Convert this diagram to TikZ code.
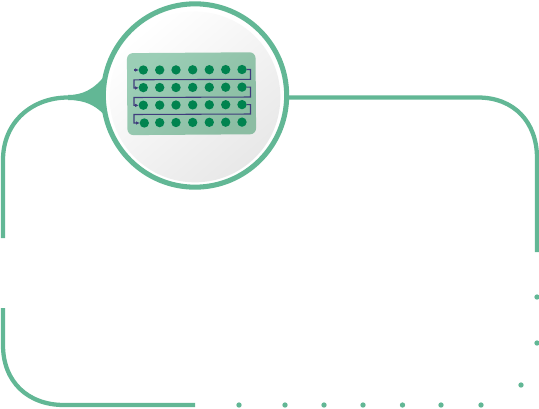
\documentclass[tikz,border=0pt]{standalone}
\usepackage{tikz}
\usetikzlibrary{arrows.meta}
\definecolor{framegreen}{HTML}{62B795}
\definecolor{dotgreen}{HTML}{00834F}
\definecolor{wirecol}{HTML}{3F3C7C}
\definecolor{cardtop}{HTML}{9BCEB6}
\definecolor{cardlow}{HTML}{8CBDA3}
\tikzset{
  frameline/.style={draw=framegreen, line width=3.2pt},
  pip/.style={circle, fill=dotgreen, inner sep=0pt, outer sep=0pt, minimum size=7pt},
  speck/.style={circle, fill=framegreen, inner sep=0pt, outer sep=0pt, minimum size=4pt},
  wire/.style={draw=wirecol, line width=.8pt, -{Latex[length=2.6pt,width=2.6pt]}}
}
\begin{document}
\begin{tikzpicture}[x=.75pt,y=-.75pt]
\useasboundingbox (0,0) rectangle (539,408);
\coordinate (topa) at (3,238);
\coordinate (topb) at (285,97.5);
\coordinate (topc) at (537,252);
\coordinate (lowa) at (3,308);
\coordinate (lowb) at (195,405);
\draw[frameline] (topa) -- (3,160) .. controls (3,122) and (32,97.5) .. (68,97.5) -- (110,97.5);
\draw[frameline] (topb) -- (478,97.5) .. controls (514,97.5) and (537,122) .. (537,158) -- (topc);
\draw[frameline] (lowa) -- (3,345) .. controls (3,382) and (28,405) .. (64,405) -- (lowb);
\fill[framegreen] (68,95) .. controls (82,95) and (94,90) .. (106,74) -- (125,135) .. controls (106,122) and (102,100) .. (68,100) -- cycle;
\node[circle, fill=white, inner sep=0pt, outer sep=0pt, minimum size=137.5pt] (ringbase) at (195,95.5){};
\node[circle, shade, top color=white, bottom color=black!9, shading angle=40, inner sep=0pt, outer sep=0pt, minimum size=128pt] (disk) at (195,97){};
\node[circle, draw=framegreen, line width=3.8pt, inner sep=0pt, outer sep=0pt, minimum size=137.5pt] (ring) at (195,95.5){};
\node[rectangle, rounded corners=4.5pt, shade, top color=cardtop, bottom color=cardlow, shading angle=45, inner sep=0pt, outer sep=0pt, minimum width=96.5pt, minimum height=61.5pt, rotate=0.4] (card) at (191.5,93.7){};
\node[pip] (p11) at (143.3,70){};
\node[pip] (p12) at (159.7,70){};
\node[pip] (p13) at (176,69.9){};
\node[pip] (p14) at (192.7,69.8){};
\node[pip] (p15) at (209.3,69.7){};
\node[pip] (p16) at (225.7,69.6){};
\node[pip] (p17) at (242,69.5){};
\node[pip] (p21) at (143.3,87.6){};
\node[pip] (p22) at (159.7,87.5){};
\node[pip] (p23) at (176,87.5){};
\node[pip] (p24) at (192.7,87.4){};
\node[pip] (p25) at (209.3,87.3){};
\node[pip] (p26) at (225.7,87.2){};
\node[pip] (p27) at (242,87.1){};
\node[pip] (p31) at (143.3,105.2){};
\node[pip] (p32) at (159.7,105.1){};
\node[pip] (p33) at (176,105){};
\node[pip] (p34) at (192.7,104.9){};
\node[pip] (p35) at (209.3,104.8){};
\node[pip] (p36) at (225.7,104.7){};
\node[pip] (p37) at (242,104.6){};
\node[pip] (p41) at (144.3,123){};
\node[pip] (p42) at (159.7,122.6){};
\node[pip] (p43) at (176,122.5){};
\node[pip] (p44) at (192.7,122.4){};
\node[pip] (p45) at (209.3,122.3){};
\node[pip] (p46) at (225.7,122.2){};
\node[pip] (p47) at (242,122.1){};
\coordinate (wirein) at (134,70);
\draw[wire] (wirein) -- (p11);
\draw[wire] (p17) -- (250.5,69.5) -- (250.5,79.3) -- (134,79.8) -- (134,88) -- (p21);
\draw[wire] (p27) -- (250.5,87.1) -- (250.5,97) -- (134,97.5) -- (134,105.4) -- (p31);
\draw[wire] (p37) -- (250.5,104.6) -- (250.5,114) -- (134,114.5) -- (134,123) -- (p41);
\node[speck] (s1) at (537,297){};
\node[speck] (s2) at (537,343){};
\node[speck] (s3) at (521,385){};
\node[speck] (s4) at (481,405){};
\node[speck] (s5) at (441,405){};
\node[speck] (s6) at (402.5,405){};
\node[speck] (s7) at (363,405){};
\node[speck] (s8) at (324,405){};
\node[speck] (s9) at (285,405){};
\node[speck] (s10) at (239,405){};
\end{tikzpicture}
\end{document}
